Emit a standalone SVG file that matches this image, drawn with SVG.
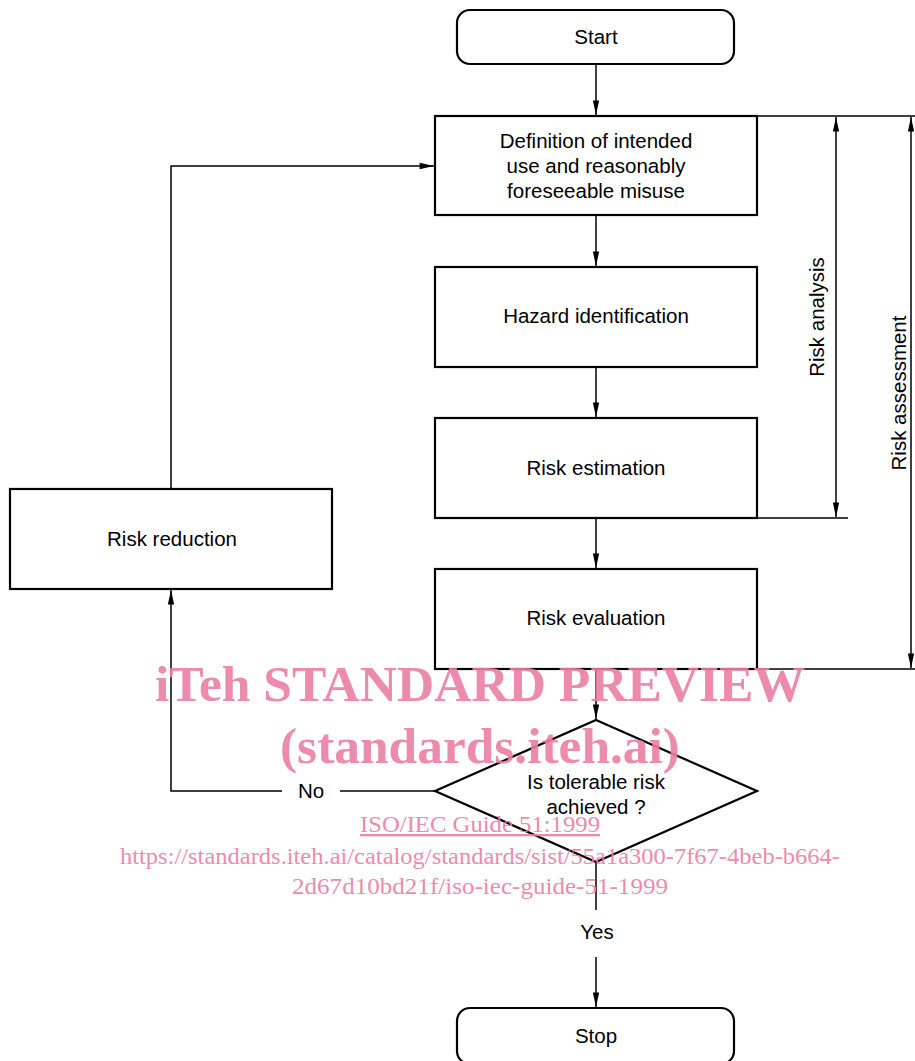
<svg xmlns="http://www.w3.org/2000/svg" width="915" height="1061" viewBox="0 0 915 1061">
<defs>
<marker id="ahL" viewBox="0 0 16 10" refX="16" refY="5" markerWidth="16" markerHeight="9" markerUnits="userSpaceOnUse" orient="auto-start-reverse">
<path d="M0,1.5 L16,5 L0,8.5 Z" fill="#000"/>
</marker>
</defs>
<style>
.box{fill:#fff;stroke:#000;stroke-width:2.2}
.ln{fill:none;stroke:#000;stroke-width:1.5}
.t{font-family:"Liberation Sans",Arial,sans-serif;font-size:20.5px;fill:#000;text-anchor:middle}
.wm{font-family:"Liberation Serif","Times New Roman",serif;fill:#ea7fa2;text-anchor:middle;opacity:0.9}
</style>
<rect width="915" height="1061" fill="#fff"/>
<g id="connectors">
<line class="ln" x1="596" y1="64" x2="596" y2="115" marker-end="url(#ahL)"/>
<line class="ln" x1="596" y1="215" x2="596" y2="266" marker-end="url(#ahL)"/>
<line class="ln" x1="596" y1="367" x2="596" y2="417" marker-end="url(#ahL)"/>
<line class="ln" x1="596" y1="518" x2="596" y2="568" marker-end="url(#ahL)"/>
<line class="ln" x1="596" y1="669" x2="596" y2="719" marker-end="url(#ahL)"/>
<polyline class="ln" points="171,489 171,166 434,166" marker-end="url(#ahL)"/>
<line class="ln" x1="435" y1="791" x2="340" y2="791"/>
<polyline class="ln" points="282,791 171,791 171,590" marker-end="url(#ahL)"/>
<line class="ln" x1="596" y1="862" x2="596" y2="910"/>
<line class="ln" x1="596" y1="957" x2="596" y2="1007" marker-end="url(#ahL)"/>
<line class="ln" x1="757" y1="116" x2="915" y2="116"/>
<line class="ln" x1="757" y1="518" x2="848" y2="518"/>
<line class="ln" x1="757" y1="669" x2="915" y2="669"/>
<line class="ln" x1="836" y1="117" x2="836" y2="517" marker-start="url(#ahL)" marker-end="url(#ahL)"/>
<line class="ln" x1="911" y1="117" x2="911" y2="668" marker-start="url(#ahL)" marker-end="url(#ahL)"/>
<text class="t" x="311" y="798">No</text>
<text class="t" x="597" y="939">Yes</text>
<text class="t" transform="translate(824,317) rotate(-90)">Risk analysis</text>
<text class="t" transform="translate(906,393) rotate(-90)">Risk assessment</text>
</g>
<g id="start"><rect class="box" x="457" y="10" width="277" height="54" rx="13"/><text class="t" x="596" y="44">Start</text></g>
<g id="definition"><rect class="box" x="435" y="116" width="322" height="99"/>
<text class="t" x="596" y="148">Definition of intended</text>
<text class="t" x="596" y="173">use and reasonably</text>
<text class="t" x="596" y="198">foreseeable misuse</text></g>
<g id="hazard"><rect class="box" x="435" y="267" width="322" height="100"/><text class="t" x="596" y="323">Hazard identification</text></g>
<g id="estimation"><rect class="box" x="435" y="418" width="322" height="100"/><text class="t" x="596" y="475">Risk estimation</text></g>
<g id="evaluation"><rect class="box" x="435" y="569" width="322" height="100"/><text class="t" x="596" y="625">Risk evaluation</text></g>
<g id="reduction"><rect class="box" x="10" y="489" width="322" height="100"/><text class="t" x="172" y="546">Risk reduction</text></g>
<g id="decision"><polygon class="box" points="596,720 757,791 596,862 435,791"/>
<text class="t" x="596" y="789">Is tolerable risk</text>
<text class="t" x="596" y="814">achieved ?</text></g>
<g id="stop"><rect class="box" x="457" y="1008" width="277" height="56" rx="13"/><text class="t" x="596" y="1043">Stop</text></g>
<g id="watermark">
<text class="wm" x="480" y="701" font-size="50" font-weight="bold" textLength="650" lengthAdjust="spacingAndGlyphs">iTeh STANDARD PREVIEW</text>
<text class="wm" x="480" y="763" font-size="50" font-weight="bold" textLength="400" lengthAdjust="spacingAndGlyphs">(standards.iteh.ai)</text>
<text class="wm" x="480" y="832" font-size="23" text-decoration="underline" textLength="240" lengthAdjust="spacingAndGlyphs">ISO/IEC Guide 51:1999</text>
<text class="wm" x="480" y="864" font-size="23" textLength="720" lengthAdjust="spacingAndGlyphs">https://standards.iteh.ai/catalog/standards/sist/55a1a300-7f67-4beb-b664-</text>
<text class="wm" x="480" y="894" font-size="23" textLength="376" lengthAdjust="spacingAndGlyphs">2d67d10bd21f/iso-iec-guide-51-1999</text>
</g>
</svg>
